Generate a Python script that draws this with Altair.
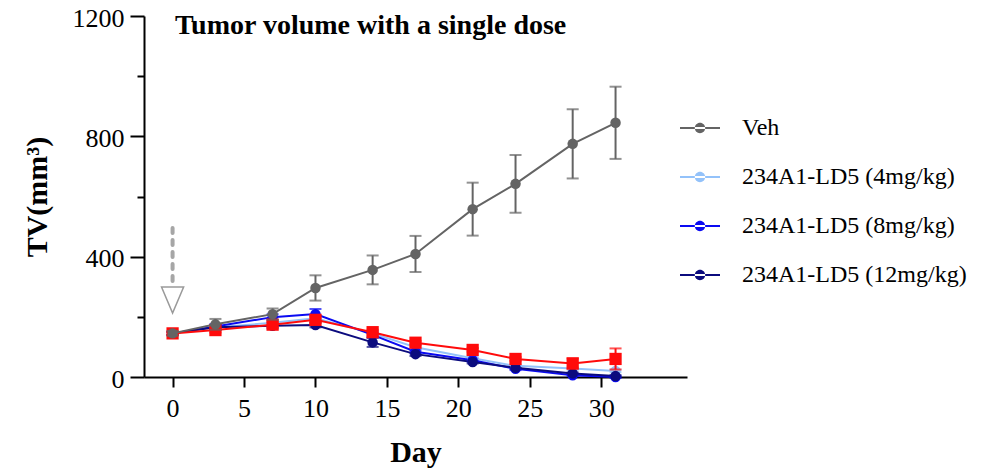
import altair as alt
import pandas as pd

# ---------------- data ----------------
days = [0, 3, 7, 10, 14, 17, 21, 24, 28, 31]

series_names = ["Veh", "234A1-LD5 (4mg/kg)", "234A1-LD5 (8mg/kg)", "234A1-LD5 (12mg/kg)"]
series_colors = ["#646464", "#93C2FA", "#0A0AF2", "#0B0B7E"]

veh_mean = [145, 175, 209, 296, 356, 409, 558, 642, 775, 845]
veh_err = [8, 18, 19, 42, 48, 60, 88, 96, 115, 120]

low_mean = [145, 165, 180, 195, 145, 99, 62, 37, 28, 20]
low_err = [5, 8, 8, 10, 8, 6, 5, 4, 4, 4]

mid_mean = [145, 168, 199, 209, 140, 84, 56, 27, 6, 0]
mid_err = [5, 8, 10, 17, 8, 6, 5, 4, 3, 3]

high_mean = [145, 165, 170, 173, 115, 76, 50, 31, 12, 3]
high_err = [5, 8, 8, 8, 15, 6, 5, 4, 3, 3]

# red (square) group, not listed in the legend
red_mean = [145, 156, 174, 190, 149, 114, 90, 60, 45, 60]
red_err = [5, 8, 8, 10, 8, 6, 6, 6, 17, 35]
red_color = "#FF0B0B"

# dosing arrow at day 0
arrow_day = [0]
arrow_top = [495]
arrow_bottom = [299]
arrow_head = [256]

y_all = [0, 200, 400, 600, 800, 1000, 1200]
x_ticks = [0, 5, 10, 15, 20, 25, 30]

# ---------------- tables ----------------
rows = []
for name, means, errs in zip(series_names,
                             [veh_mean, low_mean, mid_mean, high_mean],
                             [veh_err, low_err, mid_err, high_err]):
    for d, m, e in zip(days, means, errs):
        rows.append({"day": d, "series": name, "tv": m, "lo": m - e, "hi": m + e})
df = pd.DataFrame(rows)
df_veh = df[df.series == "Veh"]
df_drug = df[df.series != "Veh"]

df_red = pd.DataFrame({
    "day": days, "tv": red_mean,
    "lo": [m - e for m, e in zip(red_mean, red_err)],
    "hi": [m + e for m, e in zip(red_mean, red_err)],
})

df_arrow = pd.DataFrame({"day": arrow_day, "top": arrow_top,
                         "bottom": arrow_bottom, "head": arrow_head})

FONT = "Liberation Serif"

x_axis = alt.Axis(values=x_ticks, title="Day", tickSize=10, labelPadding=8,
                  titlePadding=16)
y_axis = alt.Axis(values=y_all, title="TV(mm³)", format="d",
                  labelExpr="datum.value % 400 === 0 ? datum.label : ''",
                  tickSize={"condition": {"test": "datum.value % 400 === 0", "value": 14}, "value": 7},
                  labelPadding=6, labelOffset=2, titleX=-92)

YS = alt.Scale(domain=[0, 1200], nice=False)
X = alt.X("day:Q", scale=alt.Scale(domain=[-2, 36], nice=False, zero=False), axis=x_axis)
Y = alt.Y("tv:Q", scale=YS, axis=y_axis)
Ylo = alt.Y("lo:Q", scale=YS, axis=y_axis)

color_scale = alt.Scale(domain=series_names, range=series_colors)

LEG_PATH = ("M-1,-0.05L1,-0.05L1,0.05L-1,0.05Z "
            "M-0.26,0A0.26,0.26 0 1,0 0.26,0A0.26,0.26 0 1,0 -0.26,0Z")

legend = alt.Legend(title=None, orient="none", legendX=536, legendY=92,
                    symbolType=LEG_PATH, symbolSize=1600, symbolStrokeWidth=0,
                    symbolOpacity=1,
                    labelFont=FONT, labelFontSize=24, labelColor="black",
                    labelOffset=22, rowPadding=17, padding=0, labelLimit=400)

c_nolegend = alt.Color("series:N", scale=color_scale, legend=None)
c_legend = alt.Color("series:N", scale=color_scale, legend=legend)

# first colour layer carries the legend (invisible points)
legend_layer = alt.Chart(df).mark_point(filled=True, opacity=0, size=10).encode(
    x=X, y=Y, color=c_legend)


def group_layers(data):
    base = alt.Chart(data)
    err = base.mark_errorbar(ticks=True, thickness=2, size=12).encode(
        x=X, y=Ylo, y2="hi:Q", color=c_nolegend)
    line = base.mark_line(strokeWidth=2).encode(x=X, y=Y, color=c_nolegend)
    pts = base.mark_point(filled=True, size=110, opacity=1).encode(x=X, y=Y, color=c_nolegend)
    return [err, line, pts]


red_base = alt.Chart(df_red)
red_layers = [
    red_base.mark_errorbar(ticks=True, thickness=2, size=12, color=red_color).encode(
        x=X, y=Ylo, y2="hi:Q"),
    red_base.mark_line(strokeWidth=2, color=red_color).encode(x=X, y=Y),
    red_base.mark_point(filled=True, shape="square", size=150, opacity=1,
                        color=red_color).encode(x=X, y=Y),
]

arrow_base = alt.Chart(df_arrow)
arrow_layers = [
    arrow_base.mark_rule(color="#A6A6A6", strokeWidth=4, strokeDash=[5, 7],
                         strokeCap="round").encode(
        x=X, y=alt.Y("top:Q", scale=YS, axis=y_axis), y2="bottom:Q"),
    arrow_base.mark_point(shape="M-0.85,-1L0.85,-1L0,1Z", size=676, filled=False,
                          stroke="#9A9A9A", strokeWidth=1.5, fill="white",
                          fillOpacity=1, opacity=1).encode(
        x=X, y=alt.Y("head:Q", scale=YS, axis=y_axis)),
]

layers = ([legend_layer] + group_layers(df_drug) + red_layers + group_layers(df_veh)
          + arrow_layers)

chart = alt.layer(*layers).properties(
    width=543, height=361,
    autosize=alt.AutoSizeParams(type="none"),
    padding={"left": 136, "top": 8, "right": 300, "bottom": 91},
    title=alt.TitleParams("Tumor volume with a single dose", anchor="start",
                          frame="group", dx=31, dy=35, offset=0,
                          font=FONT, fontSize=28, fontWeight="bold", color="black"),
).configure_view(stroke=None).configure_axis(
    grid=False, domainColor="black", domainWidth=2, tickColor="black", tickWidth=2,
    labelFont=FONT, labelFontSize=26, labelColor="black",
    titleFont=FONT, titleFontSize=30, titleFontWeight="bold", titleColor="black",
).configure_legend(
    labelFont=FONT, labelFontSize=24, labelColor="black", labelLimit=400,
)

chart.save("out.html", embed_options={"renderer": "svg", "actions": False})
